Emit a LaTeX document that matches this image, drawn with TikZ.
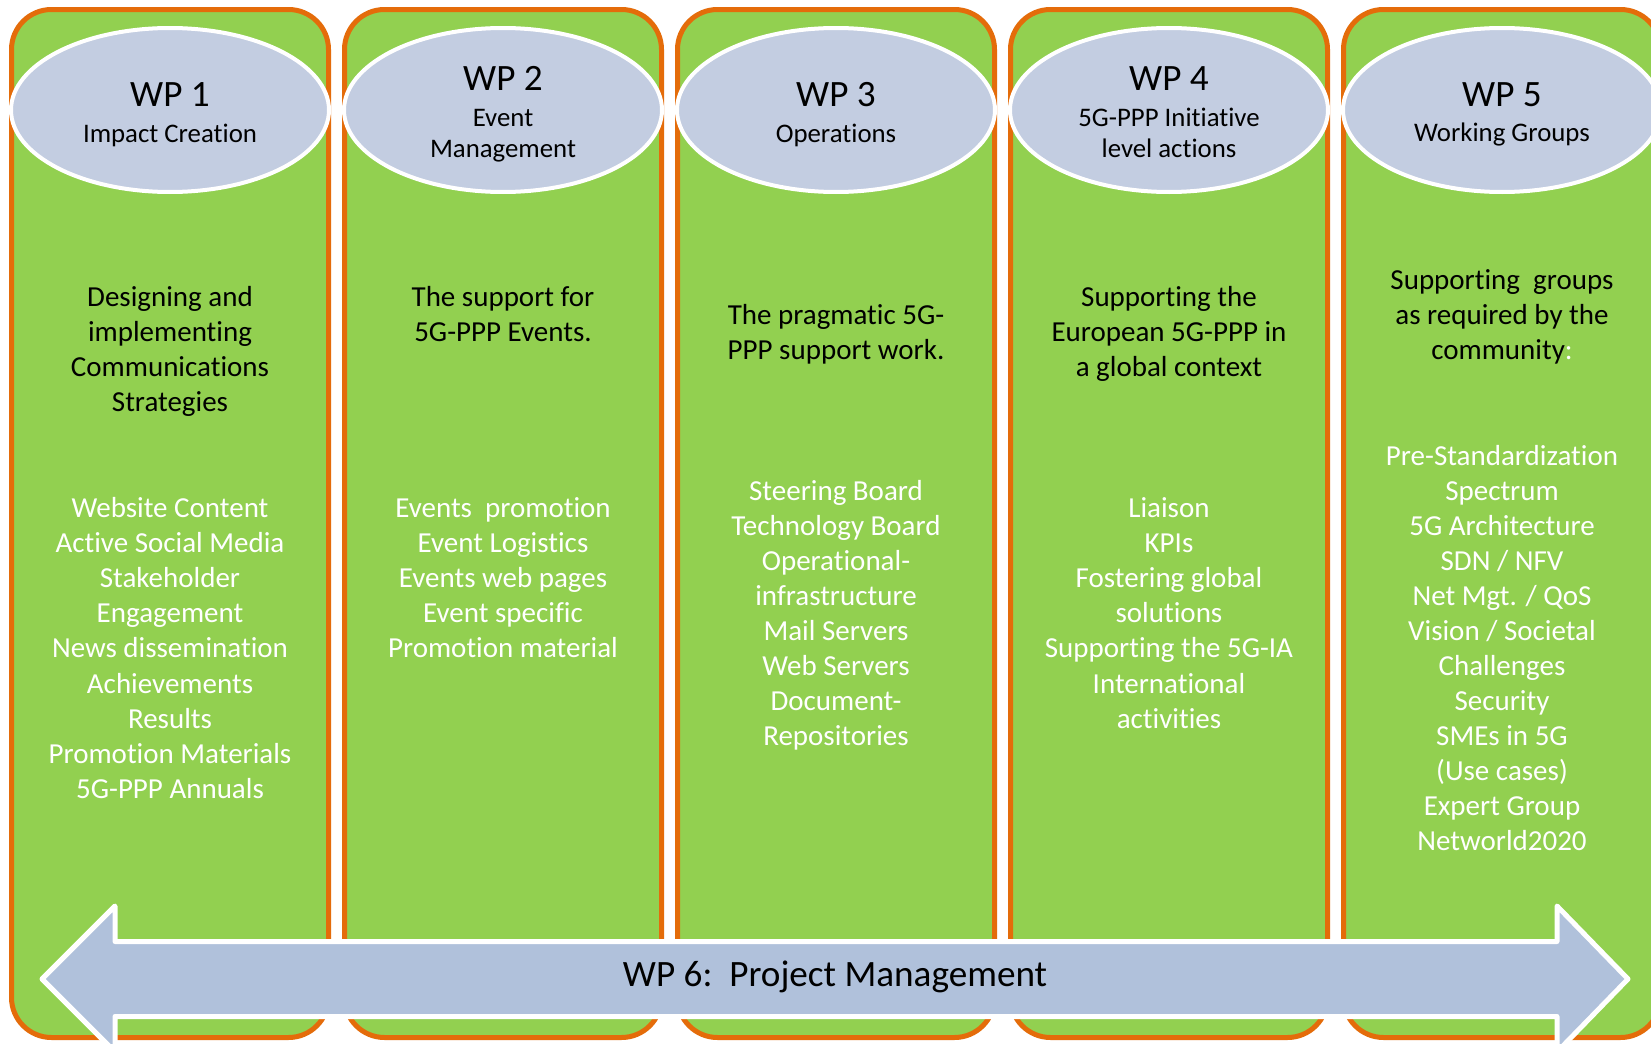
\documentclass[tikz,border=0pt]{standalone}
\usepackage{fontspec}
\setmainfont{Carlito}[Ligatures={NoCommon}]
\usetikzlibrary{shapes.geometric}
\definecolor{wpgreen}{HTML}{92D050}
\definecolor{wporange}{HTML}{E46C0A}
\definecolor{wpellfill}{HTML}{C3CDE1}
\definecolor{wparrowfill}{HTML}{B0C1DB}
\begin{document}
\begin{tikzpicture}[x=0.5pt,y=-0.5pt,
  colbox/.style={fill=wpgreen,draw=wporange,line width=2.5pt,rounded corners=20pt},
  wpell/.style={ellipse,fill=wpellfill,draw=white,line width=2pt,minimum width=159pt,minimum height=82pt,inner sep=0pt},
  wphead/.style={anchor=base,font=\fontsize{18.6}{22}\selectfont,inner sep=0pt},
  wpsub/.style={anchor=base,font=\fontsize{13.4}{16}\selectfont,inner sep=0pt},
  desc/.style={anchor=base,font=\fontsize{14.5}{17}\selectfont,inner sep=0pt,text=black},
  item/.style={desc,text=white},
  arrowshape/.style={fill=wparrowfill,draw=white,line width=2.5pt,line join=round}]
\useasboundingbox (0,0) rectangle (1651,1044);
\clip (0,0) rectangle (1651,1044);
\fill[white] (0,0) rectangle (1651,1044);
% columns
\foreach \k in {0,...,4}
  \draw[colbox] ({11.5+333*\k},9.5) rectangle ({328.5+333*\k},1037.5);
% ellipses
\foreach \k [count=\n] in {0,...,4}
  \node[wpell] (e\n) at ({170+333*\k},110) {};
% headers
\node[wphead] (h1) at (170,106.7) {WP 1};
\node[wpsub] (s1) at (170,142.7) {Impact Creation};
\node[wphead] (h2) at (503,90.7) {WP 2};
\node[wpsub] (s2a) at (503,126) {Event};
\node[wpsub] (s2b) at (503,157.7) {Management};
\node[wphead] (h3) at (836,106.7) {WP 3};
\node[wpsub] (s3) at (836,142.7) {Operations};
\node[wphead] (h4) at (1169,90.7) {WP 4};
\node[wpsub] (s4a) at (1169,126) {5G-PPP Initiative};
\node[wpsub] (s4b) at (1169,157.7) {level actions};
\node[wphead] (h5) at (1502,106.7) {WP 5};
\node[wpsub] (s5) at (1502,141.5) {Working Groups};
% descriptions
\foreach \t [count=\i from 0] in {Designing and,implementing,Communications,Strategies}
  \node[desc] (d1-\i) at (170,{306.7+35*\i}) {\t};
\foreach \t [count=\i from 0] in {The support for,5G-PPP Events.}
  \node[desc] (d2-\i) at (503,{306.7+35*\i}) {\t};
\foreach \t [count=\i from 0] in {The pragmatic 5G-,PPP support work.}
  \node[desc] (d3-\i) at (836,{324.2+35*\i}) {\t};
\foreach \t [count=\i from 0] in {Supporting the,European 5G-PPP in,a global context}
  \node[desc] (d4-\i) at (1169,{306.7+35*\i}) {\t};
\foreach \t [count=\i from 0] in {Supporting\ \ groups,as required by the,community\textcolor{white}{:}}
  \node[desc] (d5-\i) at (1502,{289.2+35*\i}) {\t};
% items
\foreach \t [count=\i from 0] in {Website Content,Active Social Media,Stakeholder,Engagement,News dissemination,Achievements,Results,Promotion Materials,5G-PPP Annuals}
  \node[item] (w1-\i) at (170,{517.5+35.1*\i}) {\t};
\foreach \t [count=\i from 0] in {Events\ \ promotion,Event Logistics,Events web pages,Event specific,Promotion material}
  \node[item] (w2-\i) at (503,{517.5+35.1*\i}) {\t};
\foreach \t [count=\i from 0] in {Steering Board,Technology Board,Operational-,infrastructure,Mail Servers,Web Servers,Document-,Repositories}
  \node[item] (w3-\i) at (836,{500+35.1*\i}) {\t};
\foreach \t [count=\i from 0] in {Liaison,KPIs,Fostering global,solutions,Supporting the 5G-IA,International,activities}
  \node[item] (w4-\i) at (1169,{517.5+35.1*\i}) {\t};
\foreach \t [count=\i from 0] in {Pre-Standardization,Spectrum,5G Architecture,SDN / NFV,Net Mgt. / QoS,Vision / Societal,Challenges,Security,SMEs in 5G,(Use cases),Expert Group,Networld2020}
  \node[item] (w5-\i) at (1502,{465+35*\i}) {\t};
% project management arrow
\draw[arrowshape] (42,979) -- (115,906) -- (115,941.5) -- (1557,941.5) -- (1557,906)
  -- (1628,979) -- (1557,1052) -- (1557,1016.5) -- (115,1016.5) -- (115,1052) -- cycle;
\node[wphead] (a6) at (835,986.7) {WP 6:\ \ Project Management};
\end{tikzpicture}
\end{document}
